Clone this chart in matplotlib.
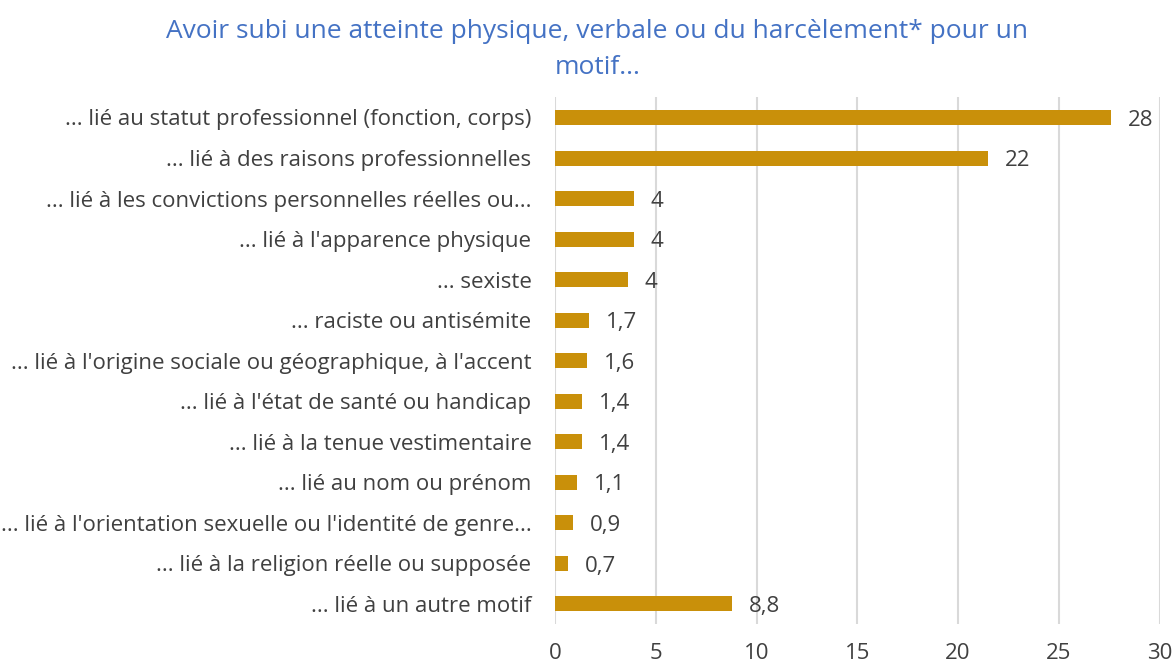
import matplotlib
matplotlib.use("Agg")
import matplotlib.pyplot as plt

# Categories, top to bottom as shown
categories = [
    "... lié au statut professionnel (fonction, corps)",
    "... lié à des raisons professionnelles",
    "... lié à les convictions personnelles réelles ou...",
    "... lié à l'apparence physique",
    "... sexiste",
    "... raciste ou antisémite",
    "... lié à l'origine sociale ou géographique, à l'accent",
    "... lié à l'état de santé ou handicap",
    "... lié à la tenue vestimentaire",
    "... lié au nom ou prénom",
    "... lié à l'orientation sexuelle ou l'identité de genre...",
    "... lié à la religion réelle ou supposée",
    "... lié à un autre motif",
]
values = [27.6, 21.5, 3.9, 3.9, 3.6, 1.7, 1.6, 1.35, 1.35, 1.1, 0.9, 0.65, 8.8]
value_labels = ["28", "22", "4", "4", "4", "1,7", "1,6", "1,4", "1,4", "1,1", "0,9", "0,7", "8,8"]
x_ticks = [0, 5, 10, 15, 20, 25, 30]

title = "Avoir subi une atteinte physique, verbale ou du harcèlement* pour un\nmotif..."

BAR_COLOR = "#C9900A"
TEXT_COLOR = "#404040"
GRID_COLOR = "#D9D9D9"
TITLE_COLOR = "#4472C4"

plt.rcParams["font.family"] = ["Open Sans", "DejaVu Sans"]

fig = plt.figure(figsize=(11.76, 6.66), dpi=100)
ax = fig.add_axes([0.472, 0.063, 0.514, 0.791])

y = list(range(len(categories)))
ax.barh(y, values, height=0.37, color=BAR_COLOR, zorder=3)
for yi, v, lab in zip(y, values, value_labels):
    ax.annotate(lab, (v, yi), xytext=(12, -2), textcoords="offset points",
                va="center", ha="left", fontsize=16, color=TEXT_COLOR)

ax.set_ylim(len(categories) - 0.5, -0.5)
ax.set_xlim(0, 30)
ax.set_yticks(y)
ax.set_yticklabels(categories, fontsize=16, color=TEXT_COLOR)
ax.set_xticks(x_ticks)
ax.set_xticklabels([str(t) for t in x_ticks], fontsize=16, color=TEXT_COLOR)
ax.tick_params(axis="y", length=0, pad=17)
ax.tick_params(axis="x", length=0, pad=14)
ax.xaxis.grid(True, color=GRID_COLOR, linewidth=1.5, zorder=0)
for s in ax.spines.values():
    s.set_visible(False)

fig.text(0.508, 0.972, title, ha="center", va="top", fontsize=19,
         color=TITLE_COLOR, linespacing=1.6)

fig.savefig("out.png", dpi=100)
